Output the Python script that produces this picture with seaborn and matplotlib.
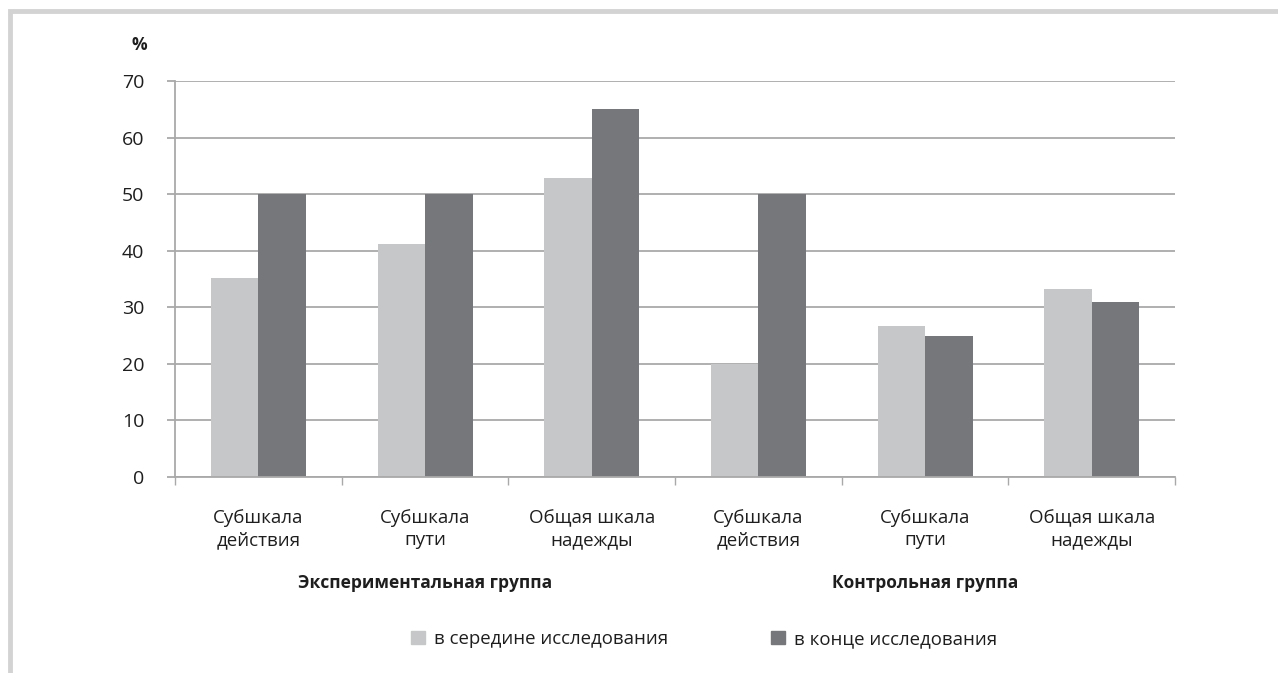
import pandas as pd
import matplotlib.pyplot as plt
import seaborn as sns
from matplotlib.patches import Rectangle

# данные
groups = ["Экспериментальная группа", "Контрольная группа"]
scales = ["Субшкала\nдействия", "Субшкала\nпути", "Общая шкала\nнадежды"]
series = ["в середине исследования", "в конце исследования"]
mid_values = [35.2, 41.2, 52.9, 20.0, 26.7, 33.3]
end_values = [50.0, 50.0, 65.0, 50.0, 25.0, 31.0]
yticks = [0, 10, 20, 30, 40, 50, 60, 70]

colors = ["#C6C7C9", "#76777B"]
text_color = "#1E1E1E"
grid_color = "#A9A9A9"
fs = 13.5

# категории: группа + шкала (уникальные ключи)
cats = [f"{g}|{s}" for g in groups for s in scales]
df = pd.DataFrame({
    "cat": cats * 2,
    "value": mid_values + end_values,
    "series": [series[0]] * len(cats) + [series[1]] * len(cats),
})

sns.set_style("white")
plt.rcParams["font.family"] = ["Open Sans", "DejaVu Sans"]

fig = plt.figure(figsize=(12.78, 6.73), dpi=100)
ax = fig.add_axes([175 / 1278, 1 - 477 / 673, 1000 / 1278, 396 / 673])

sns.barplot(data=df, x="cat", y="value", hue="series", order=cats,
            hue_order=series, palette=colors, width=0.57, gap=0,
            saturation=1, linewidth=0, ax=ax, legend=False)

ax.set_xlim(-0.5, len(cats) - 0.5)
ax.set_ylim(0, 70)
ax.set_yticks(yticks)
ax.set_yticklabels([str(t) for t in yticks], fontsize=14, color=text_color)
ax.yaxis.grid(True, color=grid_color, linewidth=1.3)
ax.set_axisbelow(True)

ax.set_xticks(range(len(cats)))
ax.set_xticklabels([c.split("|")[1] for c in cats], fontsize=fs,
                   color=text_color, linespacing=1.3)
ax.set_xticks([i - 0.5 for i in range(len(cats) + 1)], minor=True)
ax.tick_params(axis="x", which="major", length=0, pad=23)
ax.tick_params(axis="x", which="minor", length=6, width=1, color=grid_color,
               direction="out", bottom=True)
ax.tick_params(axis="y", length=6, width=1.3, color=grid_color,
               direction="out", left=True, pad=16)
ax.set_xlabel("")
ax.set_ylabel("")

for side in ["top", "right"]:
    ax.spines[side].set_visible(False)
ax.spines["left"].set_color(grid_color)
ax.spines["left"].set_linewidth(1.3)
ax.spines["bottom"].set_color(grid_color)
ax.spines["bottom"].set_linewidth(1.3)

# подписи групп
for i, g in enumerate(groups):
    fig.text((175 + 500 * i + 250) / 1278, 1 - 583 / 673, g,
             ha="center", va="center", fontsize=12.5, fontweight="bold",
             color=text_color)

fig.text(139.5 / 1278, 1 - 45 / 673, "%", ha="center", va="center",
         fontsize=12.5, fontweight="bold", color=text_color)

# легенда
handles = [Rectangle((0, 0), 1, 1, color=c) for c in colors]
fig.legend(handles, series, loc="center", bbox_to_anchor=(704 / 1278, 1 - 639 / 673),
           ncol=2, frameon=False, fontsize=13.4, handlelength=0.75,
           handleheight=0.75, handletextpad=0.5, columnspacing=5.5,
           labelcolor=text_color)

# рамка
fig.patches.append(Rectangle((10 / 1278, -0.1), 1.2, 1 - 11 / 673 + 0.1,
                             transform=fig.transFigure, fill=False,
                             edgecolor="#D3D3D3", linewidth=3.5))

fig.savefig("out.png", dpi=100, facecolor="white")
